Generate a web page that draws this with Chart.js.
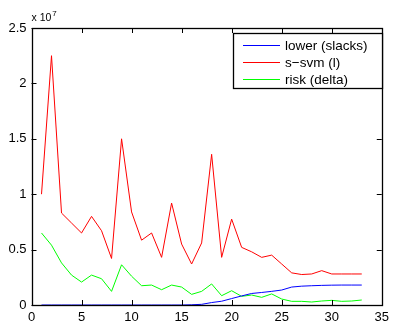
<!DOCTYPE html>
<html>
<head>
<meta charset="utf-8">
<script src="https://cdn.jsdelivr.net/npm/chart.js@4/dist/chart.umd.min.js"></script>
<style>
html,body{margin:0;padding:0;background:#fff;}
#wrap{width:394px;height:324px;position:relative;}
</style>
</head>
<body>
<div id="wrap"><canvas id="c" width="394" height="324"></canvas></div>
<script>
const iterations = [1,2,3,4,5,6,7,8,9,10,11,12,13,14,15,16,17,18,19,20,21,22,23,24,25,26,27,28,29,30,31,32,33];
const lowerSlacks = [0,0,0,0,0,0,0,0,0,0,0,0,0,0,0,0.002,0.006,0.022,0.034,0.058,0.082,0.104,0.113,0.123,0.135,0.162,0.170,0.174,0.177,0.179,0.180,0.180,0.180];
const sSvm = [1.0,2.25,0.83,0.74,0.65,0.80,0.67,0.42,1.50,0.84,0.585,0.65,0.43,0.92,0.55,0.37,0.56,1.36,0.43,0.775,0.52,0.48,0.43,0.45,0.37,0.29,0.275,0.28,0.31,0.28,0.28,0.28,0.28];
const riskDelta = [0.65,0.54,0.38,0.27,0.207,0.27,0.237,0.123,0.363,0.26,0.174,0.18,0.138,0.18,0.162,0.096,0.123,0.19,0.084,0.129,0.078,0.09,0.069,0.10,0.054,0.033,0.033,0.027,0.036,0.042,0.033,0.036,0.045];
const seriesNames = ['lower (slacks)','s\u2212svm (l)','risk (delta)'];
const seriesColors = ['#0000ff','#ff0000','#00ff00'];
const yTickValues = [0,0.5,1,1.5,2,2.5];
const xTickValues = [0,5,10,15,20,25,30,35];
const yExponentLabel = ['x 10','7'];

const FONT = '"Liberation Sans", Arial, Helvetica, sans-serif';

function pts(arr){ return arr.map((v,i)=>({x:iterations[i], y:v})); }

const boxPlugin = {
  id:'matlabBox',
  afterDatasetsDraw(chart){
    const {ctx, chartArea:a, scales} = chart;
    ctx.save();
    ctx.strokeStyle = '#000';
    ctx.lineWidth = 1;
    ctx.beginPath();
    const tl = 5;
    xTickValues.forEach(v=>{
      const px = Math.round(scales.x.getPixelForValue(v))+0.5;
      ctx.moveTo(px, a.bottom); ctx.lineTo(px, a.bottom - tl);
      ctx.moveTo(px, a.top); ctx.lineTo(px, a.top + tl);
    });
    yTickValues.forEach(v=>{
      const py = Math.round(scales.y.getPixelForValue(v))+0.5;
      ctx.moveTo(a.left, py); ctx.lineTo(a.left + tl, py);
      ctx.moveTo(a.right, py); ctx.lineTo(a.right - tl, py);
    });
    ctx.stroke();
    ctx.lineWidth = 1.3;
    ctx.strokeRect(Math.round(a.left)+0.5, Math.round(a.top)+0.5, Math.round(a.right-a.left), Math.round(a.bottom-a.top));
    // exponent label
    ctx.fillStyle = '#000';
    ctx.textBaseline = 'alphabetic';
    ctx.textAlign = 'left';
    ctx.font = '10.5px ' + FONT;
    ctx.fillText(yExponentLabel[0], a.left, a.top - 7);
    const w = ctx.measureText(yExponentLabel[0]).width;
    ctx.font = '8px ' + FONT;
    ctx.fillText(yExponentLabel[1], a.left + w + 1, a.top - 12);
    // legend
    const lx = 233.5, ly = 33.5, lw = 149, lh = 55;
    ctx.fillStyle = '#fff';
    ctx.fillRect(lx, ly, lw, lh);
    ctx.lineWidth = 1.3;
    ctx.strokeStyle = '#000';
    ctx.strokeRect(lx, ly, lw, lh);
    ctx.font = '13.5px ' + FONT;
    ctx.textBaseline = 'middle';
    chart.data.datasets.forEach((ds,i)=>{
      const y = 45.5 + i*17;
      ctx.strokeStyle = ds.borderColor;
      ctx.lineWidth = 1;
      ctx.beginPath();
      ctx.moveTo(243, y); ctx.lineTo(280, y);
      ctx.stroke();
      ctx.fillStyle = '#000';
      ctx.fillText(ds.label, 285, y + 1);
    });
    ctx.restore();
  }
};

new Chart(document.getElementById('c'), {
  type:'line',
  data:{
    datasets:[lowerSlacks, sSvm, riskDelta].map((arr,i)=>({
      label: seriesNames[i],
      data: pts(arr),
      borderColor: seriesColors[i],
      backgroundColor: seriesColors[i],
      borderWidth: 1,
      pointRadius: 0,
      tension: 0,
      fill: false
    }))
  },
  options:{
    responsive:false,
    animation:false,
    devicePixelRatio:1,
    layout:{padding:{top:28, right:11, left:0, bottom:0}},
    plugins:{legend:{display:false}, tooltip:{enabled:false}},
    scales:{
      x:{
        type:'linear', min:0, max:35,
        afterBuildTicks(s){ s.ticks = xTickValues.map(v=>({value:v})); },
        afterFit(s){ s.height = 19; },
        grid:{display:false, drawTicks:false}, border:{display:false},
        ticks:{font:{family:FONT,size:13}, color:'#000', padding:5, maxRotation:0, autoSkip:false}
      },
      y:{
        type:'linear', min:0, max:2.5,
        afterBuildTicks(s){ s.ticks = yTickValues.map(v=>({value:v})); },
        afterFit(s){ s.width = 31.5; },
        grid:{display:false, drawTicks:false}, border:{display:false},
        ticks:{font:{family:FONT,size:13}, color:'#000', padding:5, callback:v=>String(v)}
      }
    }
  },
  plugins:[boxPlugin]
});
</script>
</body>
</html>
